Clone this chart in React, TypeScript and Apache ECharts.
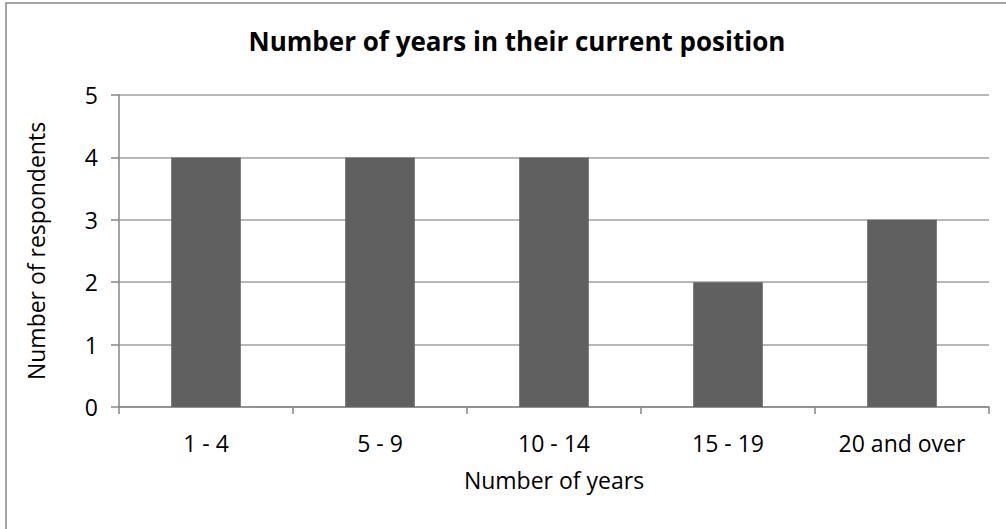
import React, { useEffect, useRef } from "react";
import * as echarts from "echarts";

const categories = ["1 - 4", "5 - 9", "10 - 14", "15 - 19", "20 and over"];
const respondents = [4, 4, 4, 2, 3];
const yTicks = { min: 0, max: 5, interval: 1 };

const FONT = "'Open Sans', sans-serif";
const AXIS_GRAY = "#868686";

export default function App() {
  const ref = useRef<HTMLDivElement>(null);

  useEffect(() => {
    if (!ref.current) return;
    const chart = echarts.init(ref.current, null, { renderer: "svg" });
    chart.setOption({
      animation: false,
      backgroundColor: "#ffffff",
      textStyle: { fontFamily: FONT },
      title: {
        text: "Number of years in their current position",
        left: 512,
        textAlign: "center",
        top: 23,
        textStyle: { fontFamily: FONT, fontSize: 26, fontWeight: "bold", color: "#000" },
      },
      graphic: [
        {
          type: "rect",
          shape: { x: 6, y: 3, width: 1020, height: 560 },
          style: { fill: "none", stroke: AXIS_GRAY, lineWidth: 1.5 },
          silent: true,
        },
      ],
      grid: { left: 119, right: 17, top: 95, bottom: 122 },
      xAxis: {
        type: "category",
        data: categories,
        name: "Number of years",
        nameLocation: "middle",
        nameGap: 61,
        nameTextStyle: { fontFamily: FONT, fontSize: 23, color: "#000" },
        axisLine: { lineStyle: { color: AXIS_GRAY, width: 1.5 } },
        axisTick: { show: true, alignWithLabel: false, length: 7, lineStyle: { color: AXIS_GRAY, width: 1.5 } },
        axisLabel: { fontFamily: FONT, fontSize: 23, color: "#000", margin: 24 },
      },
      yAxis: {
        type: "value",
        min: yTicks.min,
        max: yTicks.max,
        interval: yTicks.interval,
        name: "Number of respondents",
        nameLocation: "middle",
        nameGap: 72,
        nameTextStyle: { fontFamily: FONT, fontSize: 23, color: "#000" },
        axisLine: { show: true, lineStyle: { color: AXIS_GRAY, width: 1.5 } },
        axisTick: { show: true, length: 8, lineStyle: { color: AXIS_GRAY, width: 1.5 } },
        axisLabel: { fontFamily: FONT, fontSize: 23, color: "#000", margin: 21 },
        splitLine: { lineStyle: { color: "#a0a0a0", width: 1.5 } },
      },
      series: [
        {
          type: "bar",
          data: respondents,
          barWidth: "40%",
          itemStyle: { color: "#606060" },
        },
      ],
    });
    return () => chart.dispose();
  }, []);

  return (
    <div
      ref={ref}
      style={{ position: "fixed", left: 0, top: 0, width: 1006, height: 529 }}
    />
  );
}
